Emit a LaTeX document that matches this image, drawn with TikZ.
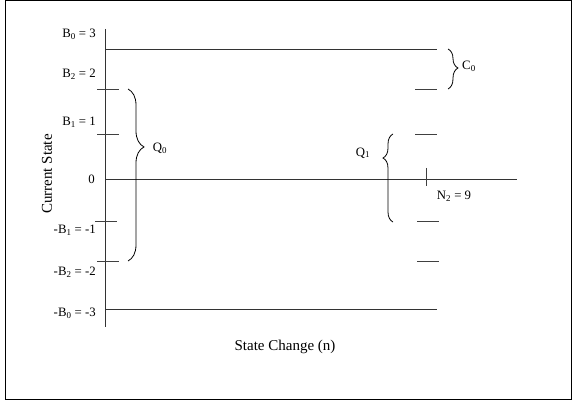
\documentclass[tikz,border=0pt]{standalone}
\usepackage{fontspec}
\setmainfont{Liberation Serif}
\usetikzlibrary{decorations.pathreplacing}
\tikzset{
  frame/.style={draw=black, line width=1pt},
  axisline/.style={draw=black!80, line width=0.9pt},
  tickline/.style={draw=black!75, line width=0.9pt},
  lbl/.style={font=\fontsize{15}{18}\selectfont, inner sep=0pt},
  slbl/.style={font=\fontsize{12.8}{15}\selectfont, inner sep=0pt},
  ylbl/.style={slbl, anchor=east},
  brc/.style 2 args={decorate, decoration={brace, amplitude=#1, aspect=#2},
    draw=black, line width=0.8pt},
}

\begin{document}
\begin{tikzpicture}[x=1pt,y=-1pt]
  \useasboundingbox (0,0) rectangle (573,401);
  \draw[frame] (5,1) rectangle (571,399);
  % axes and the two bound lines
  \coordinate (ytop) at (105,29);
  \coordinate (ybot) at (105,327);
  \draw[axisline] (ytop) -- (ybot);
  \draw[axisline] (105,49) -- (437,49);
  \draw[axisline] (105,179) -- (517,179);
  \draw[axisline] (105,309) -- (437,309);
  % level ticks, left side and right side
  \foreach \yy/\xl/\xr in {89/97/415,134/97/415,221/95/417,261/97/417} {
    \draw[tickline] (\xl,\yy) -- ++(22,0);
    \draw[tickline] (\xr,\yy) -- ++(22,0);
  }
  \draw[tickline] (426,168) -- (426,186);
  % level labels
  \node[ylbl] (b0) at (96,34) {B\textsubscript{0} = 3};
  \node[ylbl] (b2) at (96,74) {B\textsubscript{2} = 2};
  \node[ylbl] (b1) at (96,122) {B\textsubscript{1} = 1};
  \node[ylbl] (zero) at (95,179) {0};
  \node[ylbl] (mb1) at (96,230) {-B\textsubscript{1} = -1};
  \node[ylbl] (mb2) at (96,272) {-B\textsubscript{2} = -2};
  \node[ylbl] (mb0) at (96,313) {-B\textsubscript{0} = -3};
  % braces
  \draw[brc={16pt}{0.337}] (128,89) -- (128,261);
  \draw[brc={10pt}{0.727}] (393,222) -- (393,134);
  \draw[brc={10pt}{0.475}] (448,49) -- (448,89);
  \node[slbl] (q0) at (160,148) {Q\textsubscript{0}};
  \node[slbl] (q1) at (363,153) {Q\textsubscript{1}};
  \node[slbl] (c0) at (469,66) {C\textsubscript{0}};
  \node[slbl] (n2) at (454,196) {N\textsubscript{2} = 9};
  % axis titles
  \node[lbl, rotate=90] (ytitle) at (47,174) {Current State};
  \node[lbl] (xtitle) at (285,347) {State Change (n)};
\end{tikzpicture}
\end{document}
